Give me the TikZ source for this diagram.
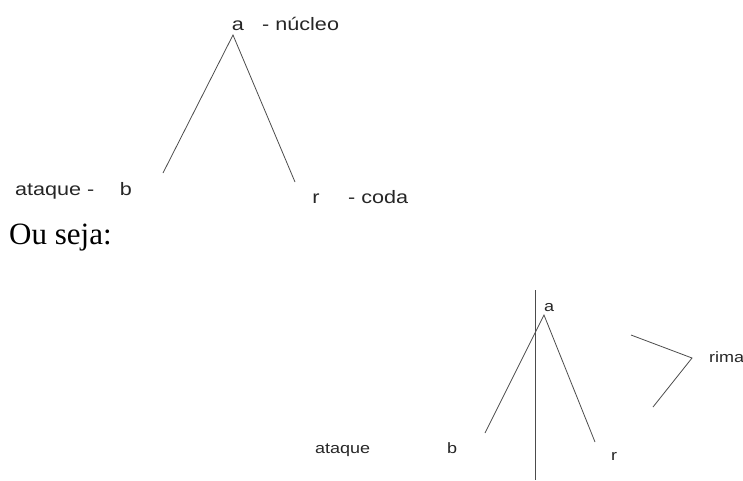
\documentclass[tikz,border=0pt]{standalone}
\usepackage{fontspec}
\setmainfont{Liberation Serif}
\newfontfamily\labfont[FakeStretch=1.2]{Liberation Sans}
\begin{document}
\begin{tikzpicture}[x=1pt,y=-1pt,
  lab/.style={inner sep=0pt,text=black!85,font=\labfont\fontsize{18}{20}\selectfont},
  labs/.style={inner sep=0pt,text=black!85,font=\labfont\fontsize{15}{17}\selectfont},
  ln/.style={draw=black!70,line width=0.8pt}]
\useasboundingbox (0,0) rectangle (743,480);
% top tree
\node[lab,anchor=base] (ta) at (238,30) {a};
\node[lab,anchor=base west] (tnuc) at (262,30) {- núcleo};
\node[lab,anchor=base west] (tat) at (15,195) {ataque -};
\node[lab,anchor=base] (tb) at (126,195) {b};
\node[lab,anchor=base] (tr) at (316,203) {r};
\node[lab,anchor=base west] (tcoda) at (348,203) {- coda};
\coordinate (tapex) at (233,35);
\coordinate (tl) at (163,173);
\coordinate (trr) at (295,182);
\draw[ln] (tl) -- (tapex) -- (trr);
% text
\node[inner sep=0pt,anchor=base west,font=\fontsize{31}{34}\selectfont] (ou) at (9,244) {Ou seja:};
% bottom tree
\coordinate (vtop) at (535,290);
\coordinate (vbot) at (535,480);
\draw[draw=black!70,line width=1pt] (vtop) -- (vbot);
\node[labs,anchor=base] (ba) at (549,311) {a};
\node[labs,anchor=base west] (bat) at (315,453) {ataque};
\node[labs,anchor=base] (bb) at (452,453) {b};
\node[labs,anchor=base] (br) at (614,460) {r};
\node[labs,anchor=base west] (brima) at (709,362) {rima};
\coordinate (bapex) at (544,315);
\coordinate (bl) at (485,433);
\coordinate (brr) at (595,442);
\draw[ln] (bl) -- (bapex) -- (brr);
\coordinate (k1) at (631,335);
\coordinate (k2) at (692,358);
\coordinate (k3) at (653,407);
\draw[ln] (k1) -- (k2) -- (k3);
\end{tikzpicture}
\end{document}
